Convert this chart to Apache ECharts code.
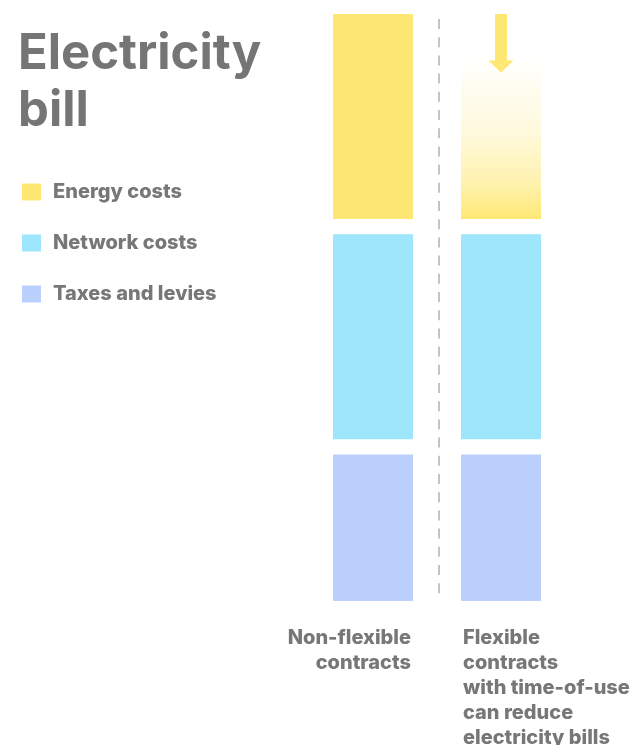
<!DOCTYPE html>
<html>
<head>
<meta charset="utf-8">
<script src="https://cdn.jsdelivr.net/npm/echarts@6/dist/echarts.min.js"></script>
<style>
  html, body { margin: 0; padding: 0; background: #ffffff; }
  #chart { width: 634px; height: 745px; }
</style>
</head>
<body>
<div id="chart"></div>
<script>
// Contract types shown as stacked bars
const categories = ['Non-flexible\ncontracts', 'Flexible\ncontracts\nwith time-of-use\ncan reduce\nelectricity bills'];
// Bill components (relative units), bottom to top
const taxesAndLevies = [25, 25];
const networkCosts = [35, 35];
const energyCosts = [35, 28];
// Legend entries, top to bottom
const legendNames = ['Energy costs', 'Network costs', 'Taxes and levies'];
// Where the "reduction" arrow ends on the flexible bar
const arrowTip = 90.2;

const SEGMENT_GAP = 2.6;
const FONT = 'Inter, "Noto Sans", sans-serif';
const TEXT_GRAY = '#777777';
const YELLOW = '#FEE873';
const CYAN = '#9DE6FC';
const BLUE = '#BBD0FD';

const gapData = categories.map(() => SEGMENT_GAP);
const axisMax = taxesAndLevies[0] + networkCosts[0] + energyCosts[0] + 2 * SEGMENT_GAP;

// The flexible bar's energy share fades out towards the top
const fadedYellow = new echarts.graphic.LinearGradient(0, 0, 0, 1, [
  { offset: 0, color: 'rgba(254,232,115,0)' },
  { offset: 0.5, color: 'rgba(254,232,115,0.27)' },
  { offset: 0.8, color: 'rgba(254,232,115,0.6)' },
  { offset: 1, color: 'rgba(254,232,115,1)' }
]);

const chart = echarts.init(document.getElementById('chart'), null, { renderer: 'canvas' });

const spacer = (name) => ({
  name: name,
  type: 'bar',
  stack: 'bill',
  barWidth: 80,
  silent: true,
  itemStyle: { color: 'rgba(0,0,0,0)' },
  data: gapData
});

chart.setOption({
  animation: false,
  backgroundColor: '#ffffff',
  title: {
    text: 'Electricity\nbill',
    left: 18,
    top: 26,
    padding: 0,
    textStyle: {
      fontFamily: FONT,
      fontSize: 49,
      fontWeight: 'bold',
      lineHeight: 57,
      color: '#757575'
    }
  },
  legend: {
    data: legendNames,
    orient: 'vertical',
    left: 22,
    top: 182,
    padding: 0,
    itemWidth: 19,
    itemHeight: 17,
    itemGap: 31,
    icon: 'rect',
    selectedMode: false,
    textStyle: {
      fontFamily: FONT,
      fontSize: 20,
      fontWeight: 800,
      lineHeight: 17,
      color: TEXT_GRAY,
      padding: [0, 0, 0, 7]
    }
  },
  grid: { left: 309, right: 69, top: 14, bottom: 144 },
  xAxis: {
    type: 'category',
    data: categories,
    show: false
  },
  yAxis: {
    type: 'value',
    min: 0,
    max: axisMax,
    show: false
  },
  series: [
    {
      name: 'Taxes and levies',
      type: 'bar',
      stack: 'bill',
      barWidth: 80,
      itemStyle: { color: BLUE },
      data: taxesAndLevies
    },
    spacer('gap-1'),
    {
      name: 'Network costs',
      type: 'bar',
      stack: 'bill',
      barWidth: 80,
      itemStyle: { color: CYAN },
      data: networkCosts
    },
    spacer('gap-2'),
    {
      name: 'Energy costs',
      type: 'bar',
      stack: 'bill',
      barWidth: 80,
      itemStyle: { color: YELLOW },
      data: energyCosts.map((v, i) => i === 1 ? { value: v, itemStyle: { color: fadedYellow } } : v)
    }
  ]
});

// Divider, reduction arrow and category captions, placed from the axes
function drawDecorations() {
  const p0 = chart.convertToPixel({ gridIndex: 0 }, [0, 0]);
  const p1 = chart.convertToPixel({ gridIndex: 0 }, [1, 0]);
  const topPx = chart.convertToPixel({ gridIndex: 0 }, [1, axisMax])[1];
  const tipPx = chart.convertToPixel({ gridIndex: 0 }, [1, arrowTip])[1];
  const halfBar = 40;
  const midX = (p0[0] + p1[0]) / 2 + 2;
  const shaftHalf = 6;
  const headHalf = 12.5;
  const headLen = 12;
  const captionFont = '800 20px ' + FONT;

  chart.setOption({
    graphic: [
      {
        type: 'line',
        silent: true,
        shape: { x1: midX, y1: topPx + 5, x2: midX, y2: p0[1] - 6 },
        style: { stroke: '#c4c4c4', lineWidth: 2, lineDash: [10, 8.2] }
      },
      {
        type: 'polygon',
        silent: true,
        shape: {
          points: [
            [p1[0] - shaftHalf, topPx],
            [p1[0] + shaftHalf, topPx],
            [p1[0] + shaftHalf, tipPx - headLen],
            [p1[0] + headHalf, tipPx - headLen],
            [p1[0], tipPx],
            [p1[0] - headHalf, tipPx - headLen],
            [p1[0] - shaftHalf, tipPx - headLen]
          ]
        },
        style: { fill: YELLOW }
      },
      {
        type: 'text',
        silent: true,
        style: {
          text: categories[0],
          x: p0[0] + halfBar - 2,
          y: p0[1] + 24,
          align: 'right',
          verticalAlign: 'top',
          font: captionFont,
          lineHeight: 25,
          fill: TEXT_GRAY
        }
      },
      {
        type: 'text',
        silent: true,
        style: {
          text: categories[1],
          x: p1[0] - halfBar + 2,
          y: p1[1] + 24,
          align: 'left',
          verticalAlign: 'top',
          font: captionFont,
          lineHeight: 25,
          fill: TEXT_GRAY
        }
      }
    ]
  });
}
drawDecorations();
</script>
</body>
</html>
